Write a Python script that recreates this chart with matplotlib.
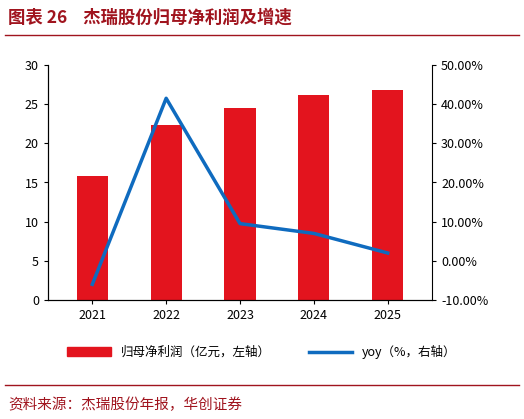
import matplotlib
matplotlib.use("Agg")
import matplotlib.pyplot as plt
from matplotlib.ticker import FuncFormatter
from matplotlib.lines import Line2D

plt.rcParams['font.family'] = ['Noto Sans CJK SC', 'DejaVu Sans']

years = ['2021', '2022', '2023', '2024', '2025']
profit = [15.8, 22.4, 24.5, 26.2, 26.8]
yoy = [-6.0, 41.5, 9.5, 7.0, 2.0]

fig = plt.figure(figsize=(5.24, 4.19), dpi=100)
W, H = 524, 419
ax = fig.add_axes([48/W, 1-300/H, (432-48)/W, (300-65)/H])
x = range(len(years))
ax.bar(x, profit, width=0.42, color='#E3141E', label='归母净利润（亿元，左轴）')
ax.set_ylim(0, 30)
ax.set_yticks(range(0, 31, 5))
ax.set_xlim(-0.6, 4.6)
ax.set_xticks(list(x))
ax.set_xticklabels(years)
ax2 = ax.twinx()
ax2.plot(list(x), yoy, color='#0F6BBF', lw=2.5, label='yoy（%，右轴）')
ax2.set_ylim(-10, 50)
ax2.set_yticks(range(-10, 51, 10))
ax2.yaxis.set_major_formatter(FuncFormatter(lambda v, p: f'{v:.2f}%'))
for a in (ax, ax2):
    a.tick_params(labelsize=9, length=3, direction='out')
    for s in ('top',):
        a.spines[s].set_visible(False)
ax.spines['right'].set_visible(False)

handles = [plt.Rectangle((0, 0), 1, 1, color='#E3141E'), Line2D([], [], color='#0F6BBF', lw=2.5)]
fig.legend(handles, ['归母净利润（亿元，左轴）', 'yoy（%，右轴）'], loc='center',
           bbox_to_anchor=(0.5, 1-352/H), ncol=2, frameon=False, fontsize=9,
           handlelength=3.5, columnspacing=3)

fig.text(8/W, 1-18/H, '图表 26    杰瑞股份归母净利润及增速', color='#A0141E', fontsize=12.5,
         fontweight='bold', va='center')
fig.add_artist(Line2D([5/W, 519/W], [1-35/H, 1-35/H], color='#A0141E', lw=1))
fig.add_artist(Line2D([5/W, 519/W], [1-385/H, 1-385/H], color='#A0141E', lw=1))
fig.text(8/W, 1-405/H, '资料来源：杰瑞股份年报，华创证券', color='#A0141E', fontsize=10.5,
         va='center', style='italic')
fig.savefig('out.png', dpi=100)
